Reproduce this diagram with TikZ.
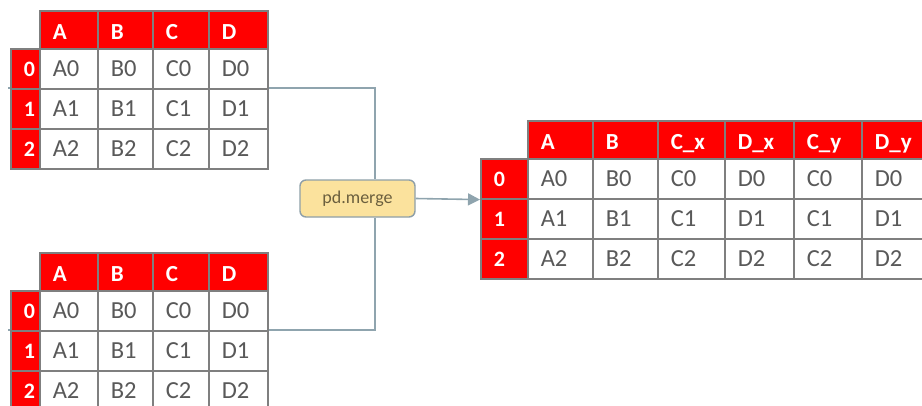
\documentclass[tikz,border=0pt]{standalone}
\usepackage{fontspec}
\setmainfont{Carlito}
\usetikzlibrary{arrows.meta,backgrounds}

\definecolor{hdrred}{HTML}{FF0000}
\definecolor{gridgray}{HTML}{7F7F7F}
\definecolor{celltext}{HTML}{595959}
\definecolor{linkblue}{HTML}{8FA4AE}
\definecolor{mergefill}{HTML}{FBE29D}
\definecolor{mergeedge}{HTML}{8E9FA8}
\definecolor{mergetext}{HTML}{6B5F3E}

\tikzset{
  cellbase/.style={draw=gridgray, line width=1.6pt, anchor=north west,
    inner xsep=13pt, inner ysep=0pt, align=left, text depth=0pt},
  hdrcell/.style={cellbase, fill=hdrred, text=white, minimum height=38pt,
    text height=20pt, font=\fontsize{23}{23}\selectfont\bfseries},
  idxcell/.style={cellbase, fill=hdrred, text=white, minimum height=40pt,
    text height=16pt, font=\fontsize{22}{22}\selectfont\bfseries},
  datacell/.style={cellbase, fill=white, text=celltext, minimum height=40pt,
    text height=16pt, font=\fontsize{24.5}{24.5}\selectfont},
  link/.style={draw=linkblue, line width=1.6pt},
  mergebox/.style={draw=mergeedge, fill=mergefill, line width=1.4pt,
    rounded corners=6pt, minimum width=115pt, minimum height=37pt,
    inner sep=0pt, text=mergetext, font=\fontsize{18}{18}\selectfont},
}

\begin{document}
\begin{tikzpicture}[x=1pt, y=-1pt]
\useasboundingbox (0,0) rectangle (922,405);

% the two input frames, same columns A-D
\foreach \tab/\ytop in {t1/10, t2/252} {
  \foreach \c/\xl/\xr/\L in {1/39/97/A, 2/97/152/B, 3/152/208/C, 4/208/267/D} {
    \pgfmathsetmacro\tw{\xr-\xl-26}
    \node[hdrcell, text width=\tw pt] (\tab-h-\c) at (\xl,\ytop) {\L};
  }
  \foreach \r in {0,1,2} {
    \pgfmathsetmacro\yt{\ytop+38+40*\r}
    \node[idxcell, text width=3pt] (\tab-\r-0) at (10,\yt) {\r};
    \foreach \c/\xl/\xr/\L in {1/39/97/A, 2/97/152/B, 3/152/208/C, 4/208/267/D} {
      \pgfmathsetmacro\tw{\xr-\xl-26}
      \node[datacell, text width=\tw pt] (\tab-\r-\c) at (\xl,\yt) {\L\r};
    }
  }
}

% the merged frame
\foreach \c/\xl/\xr/\H in {1/527/592/A, 2/592/657/B, 3/657/724/C\_x, 4/724/793/D\_x, 5/793/861/C\_y, 6/861/929/D\_y} {
  \pgfmathsetmacro\tw{\xr-\xl-26}
  \node[hdrcell, text width=\tw pt] (t3-h-\c) at (\xl,120) {\H};
}
\foreach \r in {0,1,2} {
  \pgfmathsetmacro\yt{158+40*\r}
  \node[idxcell, text width=21pt] (t3-\r-0) at (480,\yt) {\r};
  \foreach \c/\xl/\xr/\L in {1/527/592/A, 2/592/657/B, 3/657/724/C, 4/724/793/D, 5/793/861/C, 6/861/929/D} {
    \pgfmathsetmacro\tw{\xr-\xl-26}
    \node[datacell, text width=\tw pt] (t3-\r-\c) at (\xl,\yt) {\L\r};
  }
}

% the merge operation
\node[mergebox] (merge) at (357.5,198.5) {pd.merge};

\begin{scope}[on background layer]
  \draw[link] ([xshift=-2pt]t1-1-0.north west) -| ([xshift=17.5pt]merge.north);
  \draw[link] ([xshift=-2pt]t2-1-0.north west) -| ([xshift=17.5pt]merge.south);
\end{scope}
\draw[link, -{Triangle[length=12pt,width=12pt]}] (merge.east) -- (t3-0-0.south west);
\end{tikzpicture}
\end{document}
